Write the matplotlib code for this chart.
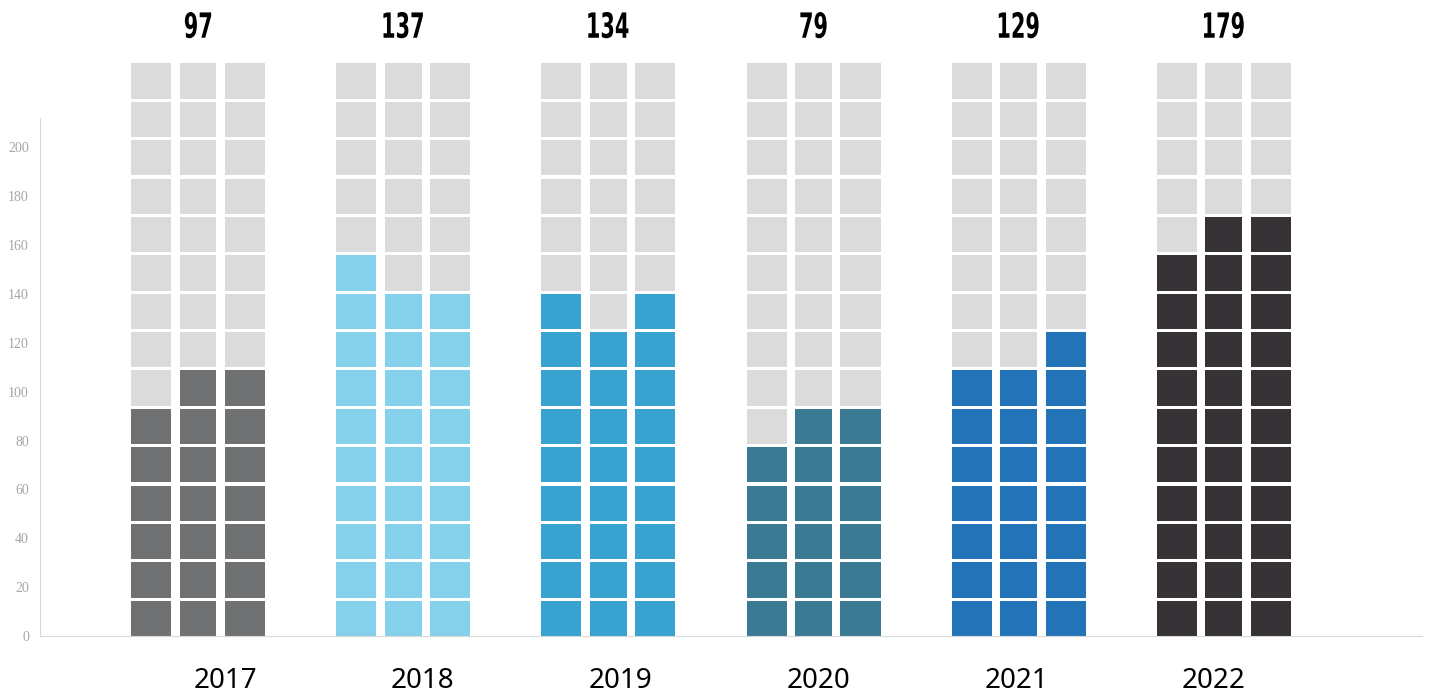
import numpy as np
import matplotlib.pyplot as plt
from matplotlib.textpath import TextPath
from matplotlib.patches import PathPatch
from matplotlib.font_manager import FontProperties
from matplotlib.transforms import Affine2D, ScaledTranslation

# Data
years = ["2017", "2018", "2019", "2020", "2021", "2022"]
totals = [97, 137, 134, 79, 129, 179]
# filled blocks per column (3 columns per year, 15 rows each)
filled = [
    [6, 7, 7],
    [10, 9, 9],
    [9, 8, 9],
    [5, 6, 6],
    [7, 7, 8],
    [10, 11, 11],
]
colors = ["#6f7172", "#85d1ec", "#38a2d0", "#3a7a93", "#2273b8", "#373235"]
grey = "#dcdbdc"

n_rows = 15
row_pitch = 15.71
block_h = 14.4
col_offsets = [-0.229, 0.0, 0.229]
col_widths = [0.195, 0.18, 0.195]

fig = plt.figure(figsize=(14.29, 6.96), dpi=100)
ax = fig.add_axes([0.028, 0.0862, 0.967, 0.7443])

# condensed heavy digits for the totals
num_font = FontProperties(family="DejaVu Sans", weight="bold")


def condensed_label(x, y, s, size=25, squeeze=0.6):
    tp = TextPath((0, 0), s, size=size, prop=num_font)
    ext = tp.get_extents()
    cx = (ext.x0 + ext.x1) / 2
    cy = (ext.y0 + ext.y1) / 2
    tr = (Affine2D().translate(-cx, -cy).scale(squeeze / 72, 1 / 72)
          + fig.dpi_scale_trans
          + ScaledTranslation(x, y, ax.transData))
    ax.add_patch(PathPatch(tp, transform=tr, color="black", lw=0,
                           clip_on=False))


for i, year in enumerate(years):
    for c in range(3):
        for r in range(n_rows):
            col = colors[i] if r < filled[i][c] else grey
            ax.bar(i + col_offsets[c], block_h, bottom=r * row_pitch,
                   width=col_widths[c], color=col, linewidth=0,
                   clip_on=False)
    condensed_label(i, 250, str(totals[i]))

ax.set_xlim(-0.770, 5.965)
ax.set_ylim(0, 212)

ax.set_yticks(range(0, 201, 20))
ax.tick_params(axis="y", length=0, pad=8, labelsize=10, labelcolor="#a6a6a6")
for lbl in ax.get_yticklabels():
    lbl.set_family("Liberation Serif")

label_pos = [0.132 + 0.964 * i for i in range(len(years))]
ax.set_xticks(label_pos)
ax.set_xticklabels(years, fontsize=20, family="Noto Sans", color="black")
ax.tick_params(axis="x", length=0, pad=22)

for s in ["top", "right"]:
    ax.spines[s].set_visible(False)
ax.spines["left"].set_color("#d9d9d9")
ax.spines["bottom"].set_color("#d9d9d9")

fig.savefig("out.png", dpi=100)
